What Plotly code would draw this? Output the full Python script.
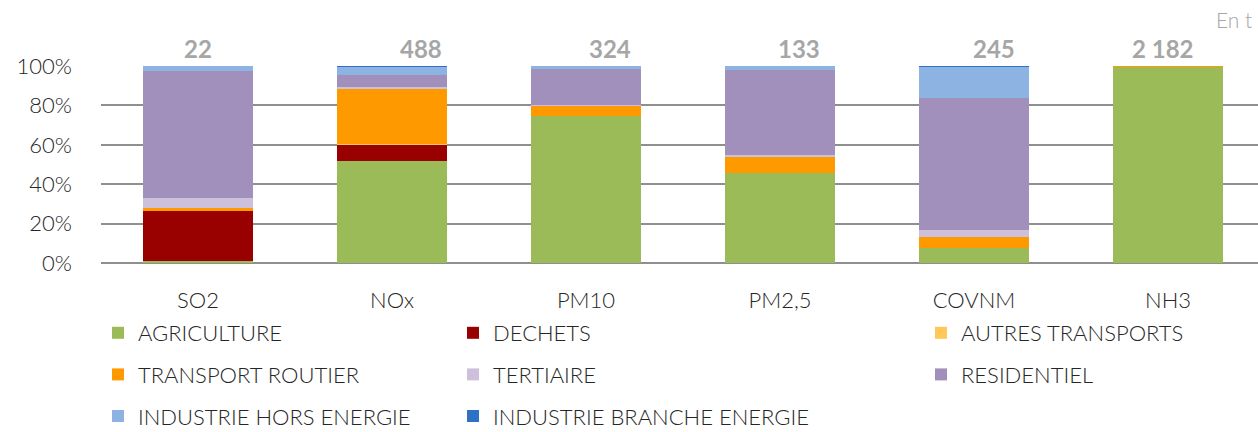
import plotly.graph_objects as go

# Répartition des émissions par secteur (%), total en tonnes au-dessus de chaque barre
polluants = ["SO2", "NOx", "PM10", "PM2,5", "COVNM", "NH3"]
totaux = ["22", "488", "324", "133", "245", "2 182"]

agriculture = [1.0, 51.6, 74.8, 45.7, 7.8, 99.7]
dechets = [25.5, 8.3, 0, 0, 0, 0]
autres_transports = [0.3, 0.5, 0, 0, 0, 0]
transport_routier = [1.0, 28.1, 5.1, 8.3, 5.2, 0.3]
tertiaire = [5.2, 0.8, 0.3, 0.7, 3.6, 0]
residentiel = [64.6, 6.3, 18.3, 43.4, 67.0, 0]
industrie_hors = [2.4, 3.9, 1.5, 1.9, 16.1, 0]
industrie_branche = [0, 0.5, 0, 0, 0.3, 0]

# (nom, valeurs, couleur, légende/colonne)
series = [
    ("AGRICULTURE", agriculture, "#9BBB59", "legend"),
    ("DECHETS", dechets, "#990000", "legend2"),
    ("AUTRES TRANSPORTS", autres_transports, "#FFC859", "legend3"),
    ("TRANSPORT ROUTIER", transport_routier, "#FF9900", "legend"),
    ("TERTIAIRE", tertiaire, "#CCC0DA", "legend2"),
    ("RESIDENTIEL", residentiel, "#A18FBC", "legend3"),
    ("INDUSTRIE HORS ENERGIE", industrie_hors, "#8DB3E2", "legend"),
    ("INDUSTRIE BRANCHE ENERGIE", industrie_branche, "#2F72C4", "legend2"),
]

W, H = 1258, 432
L, T, B = 101, 66, 169
PW, PH = W - L, H - T - B
FONT = "Lato"
TXT = "#262626"
GRIS = "#A6A6A6"

fig = go.Figure()
for name, vals, color, leg in series:
    fig.add_trace(go.Bar(
        x=polluants, y=vals, name=name, legend=leg, legendgroup=name,
        marker=dict(color=color, line=dict(width=0)),
    ))

# décalages horizontaux des totaux (zones de texte posées à la main dans l'original)
shifts = [0, 29, 24, 19, 20, -5]
for p, t, s in zip(polluants, totaux, shifts):
    fig.add_annotation(
        x=p, y=100, xref="x", yref="y", text=t, showarrow=False,
        yanchor="middle", yshift=18, xshift=s,
        font=dict(family=FONT, size=24, color=GRIS, weight="bold"),
    )
fig.add_annotation(
    x=(1254 - L) / PW, y=(H - B - 20) / PH, xref="paper", yref="paper",
    text="En t", showarrow=False, xanchor="right", yanchor="middle",
    font=dict(family=FONT, size=21, color=GRIS, weight=300),
)

leg_common = dict(
    orientation="v", xref="container", yref="container", xanchor="left",
    yanchor="top", traceorder="grouped", tracegroupgap=10,
    font=dict(family=FONT, size=22, color=TXT, weight=300),
    bgcolor="rgba(0,0,0,0)",
)
ytop = 1 - 312 / H

fig.update_layout(
    width=W, height=H,
    barmode="stack", bargap=0.428,
    plot_bgcolor="white", paper_bgcolor="white",
    margin=dict(l=L, r=0, t=T, b=B, autoexpand=False),
    font=dict(family=FONT, size=22, color=TXT),
    legend=dict(x=98 / W, y=ytop, **leg_common),
    legend2=dict(x=453 / W, y=ytop, **leg_common),
    legend3=dict(x=921 / W, y=ytop, **leg_common),
    xaxis=dict(
        type="category", range=[-0.5, -0.5 + PW / 194], showgrid=False,
        ticks="", tickangle=0, automargin=False,
        tickfont=dict(family=FONT, size=22, color=TXT, weight=300),
        ticklabelstandoff=22, showline=False, zeroline=False,
    ),
    yaxis=dict(
        range=[0, 100], dtick=20, ticksuffix="%", showgrid=True,
        gridcolor="#8F8F8F", gridwidth=2, zeroline=True, automargin=False,
        zerolinecolor="#8F8F8F", zerolinewidth=2,
        tickfont=dict(family=FONT, size=22, color=TXT, weight=300),
        ticklabelstandoff=28, showline=False,
    ),
)

# la page par défaut ajoute une marge de 8 px autour du graphique
fig.write_html(
    "out.html",
    config={"displayModeBar": False},
    post_script="document.body.style.margin='0';",
)
